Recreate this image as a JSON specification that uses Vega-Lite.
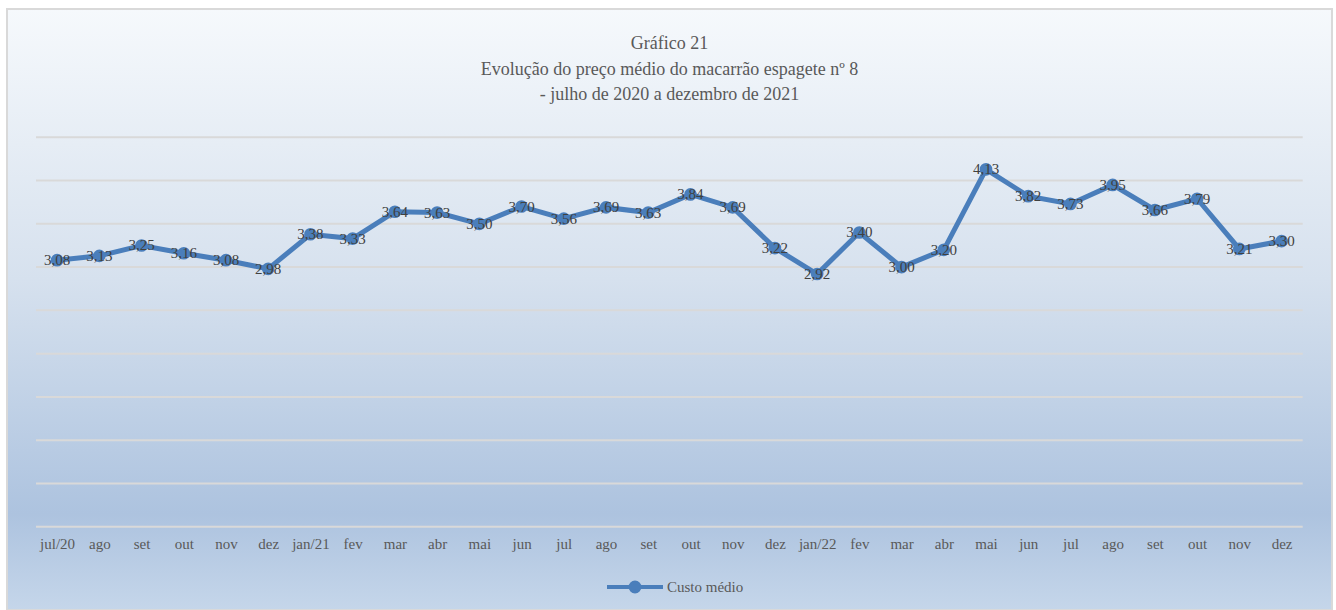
{
  "$schema": "https://vega.github.io/schema/vega-lite/v6.json",
  "width": 1325,
  "height": 601,
  "autosize": {"type": "none"},
  "padding": {"left": 7, "top": 9, "right": 4, "bottom": 0},
  "background": "white",
  "config": {
    "locale": {"number": {"decimal": ",", "thousands": ".", "grouping": [3], "currency": ["R$ ", ""]}},
    "font": "Liberation Serif",
    "view": {
      "fill": {"gradient": "linear", "x1": 0, "y1": 0, "x2": 0, "y2": 1,
        "stops": [
          {"offset": 0, "color": "#f6f9fc"},
          {"offset": 0.45, "color": "#d6e1ee"},
          {"offset": 0.84, "color": "#adc3df"},
          {"offset": 1, "color": "#c5d6ea"}
        ]},
      "stroke": "#d9d9d9",
      "strokeWidth": 2
    }
  },
  "title": {
    "text": ["Gráfico 21", "Evolução do preço médio do macarrão espagete nº 8", "- julho de 2020 a dezembro de 2021"],
    "font": "Liberation Serif",
    "fontSize": 18,
    "fontWeight": "normal",
    "color": "#595959",
    "lineHeight": 25.5,
    "anchor": "middle",
    "frame": "group",
    "offset": -95
  },
  "datasets": {
    "precos": [
      {"i": 0, "mes": "jul/20", "valor": 3.08},
      {"i": 1, "mes": "ago", "valor": 3.13},
      {"i": 2, "mes": "set", "valor": 3.25},
      {"i": 3, "mes": "out", "valor": 3.16},
      {"i": 4, "mes": "nov", "valor": 3.08},
      {"i": 5, "mes": "dez", "valor": 2.98},
      {"i": 6, "mes": "jan/21", "valor": 3.38},
      {"i": 7, "mes": "fev", "valor": 3.33},
      {"i": 8, "mes": "mar", "valor": 3.64},
      {"i": 9, "mes": "abr", "valor": 3.63},
      {"i": 10, "mes": "mai", "valor": 3.50},
      {"i": 11, "mes": "jun", "valor": 3.70},
      {"i": 12, "mes": "jul", "valor": 3.56},
      {"i": 13, "mes": "ago", "valor": 3.69},
      {"i": 14, "mes": "set", "valor": 3.63},
      {"i": 15, "mes": "out", "valor": 3.84},
      {"i": 16, "mes": "nov", "valor": 3.69},
      {"i": 17, "mes": "dez", "valor": 3.22},
      {"i": 18, "mes": "jan/22", "valor": 2.92},
      {"i": 19, "mes": "fev", "valor": 3.40},
      {"i": 20, "mes": "mar", "valor": 3.00},
      {"i": 21, "mes": "abr", "valor": 3.20},
      {"i": 22, "mes": "mai", "valor": 4.13},
      {"i": 23, "mes": "jun", "valor": 3.82},
      {"i": 24, "mes": "jul", "valor": 3.73},
      {"i": 25, "mes": "ago", "valor": 3.95},
      {"i": 26, "mes": "set", "valor": 3.66},
      {"i": 27, "mes": "out", "valor": 3.79},
      {"i": 28, "mes": "nov", "valor": 3.21},
      {"i": 29, "mes": "dez", "valor": 3.30}
    ],
    "grade": [
      {"v": 0}, {"v": 0.5}, {"v": 1}, {"v": 1.5}, {"v": 2},
      {"v": 2.5}, {"v": 3}, {"v": 3.5}, {"v": 4}, {"v": 4.5}
    ]
  },
  "layer": [
    {
      "data": {"name": "grade"},
      "mark": {"type": "rule", "color": "#d9d9d9", "strokeWidth": 2},
      "encoding": {
        "y": {"field": "v", "type": "quantitative", "scale": {"domain": [-0.963, 5.983], "nice": false, "zero": false}, "axis": null},
        "x": {
          "datum": -0.5, "type": "quantitative",
          "scale": {"domain": [-1.187, 30.194], "nice": false, "zero": false},
          "axis": {
            "values": [0,1,2,3,4,5,6,7,8,9,10,11,12,13,14,15,16,17,18,19,20,21,22,23,24,25,26,27,28,29],
            "labelExpr": "['jul/20','ago','set','out','nov','dez','jan/21','fev','mar','abr','mai','jun','jul','ago','set','out','nov','dez','jan/22','fev','mar','abr','mai','jun','jul','ago','set','out','nov','dez'][datum.value]",
            "ticks": false,
            "domain": false,
            "grid": false,
            "title": null,
            "labelFont": "Liberation Serif",
            "labelFontSize": 15,
            "labelColor": "#595959",
            "labelPadding": 0,
            "labelOverlap": false,
            "labelFlush": false,
            "offset": -74
          }
        },
        "x2": {"datum": 29.5}
      }
    },
    {
      "data": {"name": "precos"},
      "mark": {"type": "line", "strokeWidth": 5, "point": {"filled": true, "size": 160}},
      "encoding": {
        "x": {"field": "i", "type": "quantitative"},
        "y": {"field": "valor", "type": "quantitative"},
        "color": {
          "datum": "Custo médio",
          "scale": {"range": ["#4a7ebb"]},
          "legend": {
            "title": null,
            "orient": "none",
            "legendX": 598,
            "legendY": 548,
            "padding": 0,
            "symbolType": "M-1,0L1,0M0.16,0A0.16,0.16,0,1,1,-0.16,0A0.16,0.16,0,1,1,0.16,0Z",
            "symbolSize": 3136,
            "symbolStrokeWidth": 4,
            "symbolFillColor": "#4a7ebb",
            "symbolStrokeColor": "#4a7ebb",
            "labelFont": "Liberation Serif",
            "labelFontSize": 15,
            "labelColor": "#595959",
            "labelOffset": 2
          }
        }
      }
    },
    {
      "data": {"name": "precos"},
      "mark": {"type": "text", "fontSize": 15, "color": "#404040", "baseline": "middle", "align": "center", "font": "Liberation Serif"},
      "encoding": {
        "x": {"field": "i", "type": "quantitative"},
        "y": {"field": "valor", "type": "quantitative"},
        "text": {"field": "valor", "type": "quantitative", "format": ".2f"}
      }
    }
  ]
}
